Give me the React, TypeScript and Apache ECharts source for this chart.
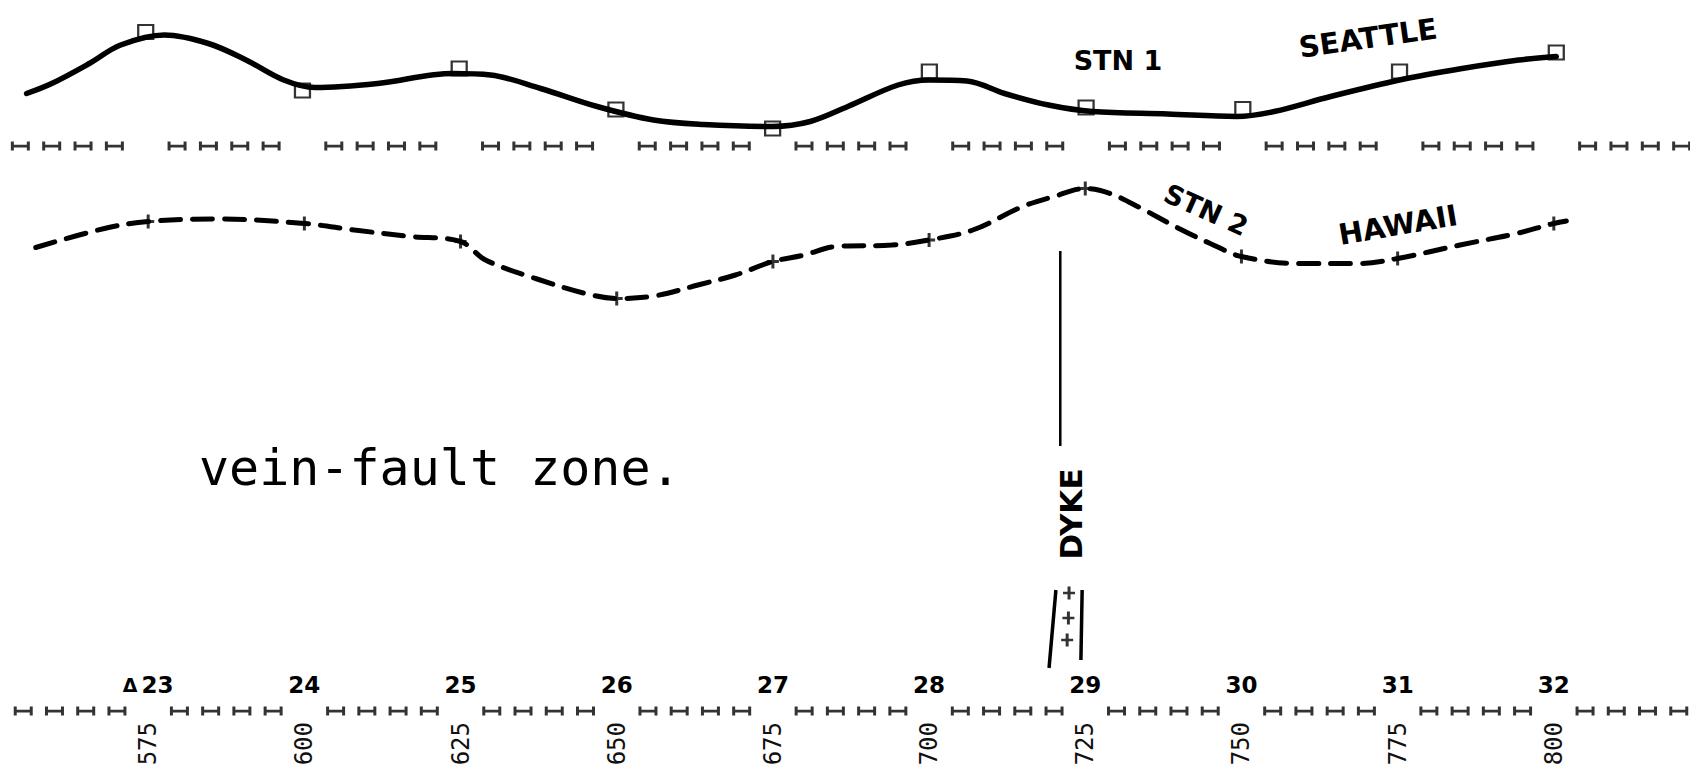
import React, { useEffect, useRef } from "react";
import * as echarts from "echarts";

// Survey line chainage (feet) and station numbers
const STATIONS = [575, 600, 625, 650, 675, 700, 725, 750, 775, 800];
const STATION_NUMBERS = ["23", "24", "25", "26", "27", "28", "29", "30", "31", "32"];
const SUB_TICKS = [
  555, 560, 565, 570, 580, 585, 590, 595, 605, 610, 615, 620, 630, 635, 640, 645,
  655, 660, 665, 670, 680, 685, 690, 695, 705, 710, 715, 720, 730, 735, 740, 745,
  755, 760, 765, 770, 780, 785, 790, 795, 805, 810, 815, 820,
];

// STN 1 (Seattle) readings at stations and hand-drawn trace
const STN1_READINGS = [22.8, 11.1, 15.5, 7.3, 3.5, 14.9, 7.7, 7.4, 14.9, 18.7];
const STN1_TRACE_X = [
  556, 560, 566, 571, 578, 585, 591, 597, 602, 612, 624, 630, 638, 647, 656, 664, 675,
  681, 687, 695, 700, 706, 712, 719, 726, 738, 749, 755, 764, 775, 785, 794, 800,
];
const STN1_TRACE_Y = [
  10.5, 12.5, 16.5, 20.2, 22.2, 20.5, 17.2, 13.2, 11.7, 12.5, 14.5, 14.2, 11.5, 7.9, 5.2, 4.3, 3.9,
  4.9, 7.9, 12.2, 13.2, 13.0, 10.5, 8.2, 6.9, 6.4, 5.9, 6.9, 9.9, 13.2, 15.5, 17.2, 17.9,
];

// STN 2 (Hawaii) readings at stations and hand-drawn trace
const STN2_READINGS = [-15.1, -15.5, -19.1, -30.5, -23.1, -18.8, -8.5, -22.1, -22.5, -15.5];
const STN2_TRACE_X = [
  557, 568, 575, 586, 600, 608, 617, 625, 629, 637, 645, 650, 656, 663, 669, 675, 680, 685,
  694, 700, 707, 715, 720, 725, 729, 734, 740, 745, 750, 759, 769, 775, 785, 794, 800, 802,
];
const STN2_TRACE_Y = [
  -20.3, -16.5, -15.1, -14.6, -15.5, -16.8, -18.1, -19.1, -22.8, -26.5, -29.5, -30.5, -30, -27.8,
  -25.8, -23.1, -21.8, -20.1, -19.8, -18.8, -16.8, -12.1, -10.1, -8.5, -9.5, -12.5, -16.5, -19.5,
  -22.1, -23.5, -23.5, -22.5, -19.8, -17.5, -15.5, -15,
];

// Dyke annotation (data coordinates of the lower panel)
const DYKE_LINE_X = [721, 721];
const DYKE_LINE_Y = [-21, -60];
const DYKE_WALL_L_X = [720.3, 719.2];
const DYKE_WALL_L_Y = [-88.8, -104.4];
const DYKE_WALL_R_X = [724.5, 724.3];
const DYKE_WALL_R_Y = [-88.8, -102.8];
const DYKE_PLUS_X = [722.4, 722.3, 722.1];
const DYKE_PLUS_Y = [-89.4, -94.4, -98.8];

const AXIS_MIN = 550;
const AXIS_MAX = 825;
const UPPER_MAX = 29;
const LOWER_MIN = -113;

const zip = (xs: number[], ys: number[]) => xs.map((x, i) => [x, ys[i]]);

const H_SYMBOL = "path://M0,0h3v9h-3z M3,3.3h13v2.6h-13z M16,0h3v9h-3z";
const PLUS_SYMBOL = "path://M4.5,0h3v14h-3z M0,5.6h12v2.8h-12z";

const OFFSET_X = 11; // container starts 11px left of page
const T = (x: number) => x + OFFSET_X;

export default function App() {
  const ref = useRef<HTMLDivElement>(null);
  useEffect(() => {
    if (!ref.current) return;
    const chart = echarts.init(ref.current, null, { renderer: "svg" });
    const option: any = {
      animation: false,
      backgroundColor: "#ffffff",
      grid: [
        { left: 0, right: 0, top: 1, height: 145 },
        { left: 0, right: 0, top: 146, height: 565 },
      ],
      xAxis: [
        { gridIndex: 0, type: "value", min: AXIS_MIN, max: AXIS_MAX, show: false },
        {
          gridIndex: 1,
          type: "value",
          min: AXIS_MIN,
          max: AXIS_MAX,
          interval: 25,
          position: "bottom",
          axisLine: { show: false },
          axisTick: { show: false },
          splitLine: { show: false },
          axisLabel: {
            inside: true,
            margin: 15,
            interval: 0,
            color: "#000",
            fontFamily: "DejaVu Sans",
            fontWeight: "bold",
            fontSize: 23,
            formatter: (v: number) => {
              const i = STATIONS.indexOf(v);
              if (i < 0) return "";
              return i === 0 ? "{d|Δ}" + STATION_NUMBERS[i] : STATION_NUMBERS[i];
            },
            rich: {
              d: { fontSize: 19, fontWeight: "bold", fontFamily: "DejaVu Sans", color: "#000", padding: [0, 4, 0, 0] },
            },
          },
        },
        {
          gridIndex: 1,
          type: "value",
          min: AXIS_MIN,
          max: AXIS_MAX,
          interval: 25,
          position: "bottom",
          offset: 0,
          axisLine: { show: false },
          axisTick: { show: false },
          splitLine: { show: false },
          axisLabel: {
            rotate: 90,
            margin: 11,
            interval: 0,
            color: "#111",
            fontFamily: "DejaVu Sans Mono",
            fontSize: 24,
            formatter: (v: number) => (STATIONS.indexOf(v) < 0 ? "" : String(v)),
          },
        },
      ],
      yAxis: [
        { gridIndex: 0, type: "value", min: 0, max: UPPER_MAX, show: false },
        { gridIndex: 1, type: "value", min: LOWER_MIN, max: 0, show: false },
      ],
      series: [
        {
          name: "STN 1 trace",
          type: "line",
          xAxisIndex: 0,
          yAxisIndex: 0,
          data: zip(STN1_TRACE_X, STN1_TRACE_Y),
          smooth: 0.35,
          symbol: "none",
          clip: false,
          lineStyle: { color: "#000", width: 5.5, cap: "round" },
        },
        {
          name: "STN 1 readings",
          type: "scatter",
          xAxisIndex: 0,
          yAxisIndex: 0,
          data: zip(STATIONS, STN1_READINGS),
          symbol: "rect",
          symbolSize: [15, 14],
          clip: false,
          z: 4,
          itemStyle: { color: "rgba(255,255,255,0)", borderColor: "#000", borderWidth: 2.2 },
        },
        {
          name: "upper chainage",
          type: "scatter",
          xAxisIndex: 0,
          yAxisIndex: 0,
          data: SUB_TICKS.map((v) => [v, 0]),
          symbol: H_SYMBOL,
          symbolSize: [19, 9],
          clip: false,
          itemStyle: { color: "#000" },
        },
        {
          name: "lower chainage",
          type: "scatter",
          xAxisIndex: 1,
          yAxisIndex: 1,
          data: SUB_TICKS.map((v) => [v, LOWER_MIN]),
          symbol: H_SYMBOL,
          symbolSize: [19, 9],
          clip: false,
          itemStyle: { color: "#000" },
        },
        {
          name: "STN 2 trace",
          type: "line",
          xAxisIndex: 1,
          yAxisIndex: 1,
          data: zip(STN2_TRACE_X, STN2_TRACE_Y),
          smooth: 0.35,
          symbol: "none",
          clip: false,
          lineStyle: { color: "#000", width: 5, type: [20, 12], cap: "round" },
        },
        {
          name: "STN 2 readings",
          type: "scatter",
          xAxisIndex: 1,
          yAxisIndex: 1,
          data: zip(STATIONS, STN2_READINGS),
          symbol: PLUS_SYMBOL,
          symbolSize: [12, 14],
          clip: false,
          itemStyle: { color: "#000" },
        },
        {
          name: "dyke",
          type: "line",
          xAxisIndex: 1,
          yAxisIndex: 1,
          data: zip(DYKE_LINE_X, DYKE_LINE_Y),
          symbol: "none",
          clip: false,
          lineStyle: { color: "#000", width: 2.5 },
        },
        {
          name: "dyke wall left",
          type: "line",
          xAxisIndex: 1,
          yAxisIndex: 1,
          data: zip(DYKE_WALL_L_X, DYKE_WALL_L_Y),
          symbol: "none",
          clip: false,
          lineStyle: { color: "#000", width: 3.5 },
        },
        {
          name: "dyke wall right",
          type: "line",
          xAxisIndex: 1,
          yAxisIndex: 1,
          data: zip(DYKE_WALL_R_X, DYKE_WALL_R_Y),
          symbol: "none",
          clip: false,
          lineStyle: { color: "#000", width: 3.5 },
        },
        {
          name: "dyke fill",
          type: "scatter",
          xAxisIndex: 1,
          yAxisIndex: 1,
          data: zip(DYKE_PLUS_X, DYKE_PLUS_Y),
          symbol: PLUS_SYMBOL,
          symbolSize: [12, 13],
          clip: false,
          itemStyle: { color: "#000" },
        },
      ],
      graphic: [
        {
          type: "text",
          x: T(1118),
          y: 60,
          style: { text: "STN 1", fill: "#000", fontFamily: "DejaVu Sans", fontWeight: "bold", fontSize: 27, align: "center", verticalAlign: "middle" },
        },
        {
          type: "text",
          x: T(1368),
          y: 38,
          rotation: 0.14,
          style: { text: "SEATTLE", fill: "#000", fontFamily: "DejaVu Sans", fontWeight: "bold", fontSize: 29, align: "center", verticalAlign: "middle" },
        },
        {
          type: "text",
          x: T(1206),
          y: 210,
          rotation: -0.42,
          style: { text: "STN 2", fill: "#000", fontFamily: "DejaVu Sans", fontWeight: "bold", fontSize: 27, align: "center", verticalAlign: "middle" },
        },
        {
          type: "text",
          x: T(1398),
          y: 225,
          rotation: 0.17,
          style: { text: "HAWAII", fill: "#000", fontFamily: "DejaVu Sans", fontWeight: "bold", fontSize: 29, align: "center", verticalAlign: "middle" },
        },
        {
          type: "text",
          x: T(1071),
          y: 514,
          rotation: Math.PI / 2,
          style: { text: "DYKE", fill: "#000", fontFamily: "DejaVu Sans", fontWeight: "bold", fontSize: 31, align: "center", verticalAlign: "middle" },
        },
        {
          type: "text",
          x: T(199),
          y: 468,
          style: { text: "vein-fault zone.", fill: "#000", fontFamily: "DejaVu Sans Mono", fontSize: 50, align: "left", verticalAlign: "middle" },
        },
      ],
    };
    chart.setOption(option);
    return () => chart.dispose();
  }, []);
  return (
    <div style={{ position: "fixed", left: 0, top: 0, width: 1690, height: 778, overflow: "hidden", background: "#fff" }}>
      <div ref={ref} style={{ position: "absolute", left: -OFFSET_X, top: 0, width: 1724, height: 778 }} />
    </div>
  );
}
